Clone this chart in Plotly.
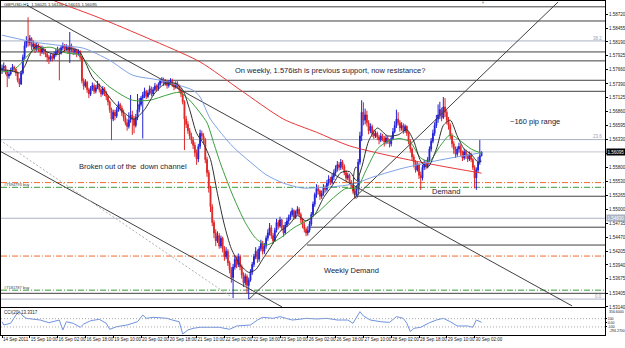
import plotly.graph_objects as go

# ---------------- GBPUSD H1 candles (bar 0 = 14 Sep 2011) ----------------
first_open = 1.5765
close = [
    1.5769, 1.5773, 1.5762, 1.5754, 1.5758, 1.5765, 1.5771, 1.5767, 1.5760, 1.5746, 1.5739,
    1.5760, 1.5790, 1.5812, 1.5822, 1.5818, 1.5826,
    1.5810, 1.5815, 1.5805, 1.5812, 1.5808, 1.5800, 1.5806, 1.5802,
    1.5796, 1.5790, 1.5786, 1.5792, 1.5788, 1.5795, 1.5800,
    1.5805, 1.5798, 1.5808, 1.5812, 1.5806, 1.5810, 1.5803, 1.5812, 1.5805,
    1.5800, 1.5803, 1.5797, 1.5801, 1.5790,
    1.5745, 1.5735, 1.5742, 1.5728, 1.5720, 1.5730, 1.5736,
    1.5725, 1.5732, 1.5738, 1.5728, 1.5720, 1.5730, 1.5722, 1.5715,
    1.5705, 1.5690, 1.5672, 1.5685, 1.5678, 1.5690, 1.5700, 1.5693,
    1.5684, 1.5675, 1.5665, 1.5658, 1.5670, 1.5680, 1.5672, 1.5660, 1.5675, 1.5690, 1.5700,
    1.5712, 1.5718, 1.5725, 1.5715, 1.5722, 1.5730, 1.5720, 1.5728, 1.5735, 1.5730,
    1.5738, 1.5745, 1.5748, 1.5740, 1.5744, 1.5736, 1.5742, 1.5746, 1.5738, 1.5733, 1.5740, 1.5736, 1.5728,
    1.5720, 1.5705, 1.5672, 1.5662, 1.5650, 1.5640, 1.5632, 1.5622, 1.5608, 1.5596, 1.5620, 1.5645, 1.5640, 1.5632,
    1.5595, 1.5570, 1.5540, 1.5505, 1.5475, 1.5455, 1.5440, 1.5450, 1.5430,
    1.5445, 1.5425, 1.5410, 1.5420, 1.5398, 1.5385, 1.5370, 1.5390, 1.5405, 1.5395, 1.5410,
    1.5390, 1.5375, 1.5360, 1.5372, 1.5355, 1.5365, 1.5380, 1.5395,
    1.5410, 1.5420, 1.5405, 1.5425, 1.5435, 1.5420, 1.5430, 1.5445,
    1.5455, 1.5465, 1.5450, 1.5440, 1.5460, 1.5475, 1.5468, 1.5480, 1.5465, 1.5455, 1.5470, 1.5478, 1.5485,
    1.5490, 1.5498, 1.5485, 1.5495, 1.5500, 1.5490, 1.5480,
    1.5470, 1.5462, 1.5455, 1.5460, 1.5472,
    1.5490, 1.5510, 1.5528, 1.5540, 1.5535,
    1.5525, 1.5530, 1.5542, 1.5538, 1.5550, 1.5558, 1.5552, 1.5562,
    1.5570, 1.5578, 1.5585, 1.5580, 1.5590, 1.5582,
    1.5570, 1.5560, 1.5565, 1.5552, 1.5545, 1.5535, 1.5528, 1.5540,
    1.5590, 1.5640, 1.5685, 1.5670, 1.5680, 1.5665, 1.5650, 1.5658, 1.5645,
    1.5640, 1.5645, 1.5638, 1.5632, 1.5640, 1.5635, 1.5628, 1.5636, 1.5630, 1.5625, 1.5635, 1.5648, 1.5660, 1.5672, 1.5665, 1.5655,
    1.5660, 1.5650, 1.5658, 1.5645, 1.5630,
    1.5615, 1.5600, 1.5590, 1.5575, 1.5585, 1.5565, 1.5560,
    1.5580, 1.5588, 1.5582, 1.5595,
    1.5615, 1.5630, 1.5645, 1.5660, 1.5672,
    1.5680, 1.5690, 1.5675, 1.5695, 1.5685, 1.5670, 1.5660,
    1.5640, 1.5625, 1.5615, 1.5605,
    1.5615, 1.5620, 1.5608, 1.5598, 1.5610, 1.5602, 1.5596, 1.5605, 1.5595,
    1.5580, 1.5560, 1.5575, 1.5590, 1.5602, 1.56095,
]
high = [
    1.5776, 1.5780, 1.5775, 1.5766, 1.5763, 1.5770, 1.5777, 1.5774, 1.5769, 1.5763, 1.5750,
    1.5764, 1.5795, 1.5820, 1.5830, 1.5866, 1.5832,
    1.5828, 1.5822, 1.5818, 1.5818, 1.5816, 1.5812, 1.5812, 1.5810,
    1.5806, 1.5800, 1.5794, 1.5797, 1.5796, 1.5801, 1.5806,
    1.5810, 1.5808, 1.5813, 1.5818, 1.5815, 1.5815, 1.5812, 1.5838, 1.5816,
    1.5809, 1.5808, 1.5806, 1.5805, 1.5803,
    1.5792, 1.5750, 1.5748, 1.5745, 1.5732, 1.5735, 1.5742,
    1.5740, 1.5737, 1.5745, 1.5740, 1.5731, 1.5735, 1.5733, 1.5726,
    1.5718, 1.5708, 1.5694, 1.5690, 1.5690, 1.5695, 1.5706, 1.5703,
    1.5698, 1.5690, 1.5680, 1.5672, 1.5685, 1.5718, 1.5688, 1.5678, 1.5682, 1.5720, 1.5712,
    1.5716, 1.5724, 1.5732, 1.5728, 1.5727, 1.5736, 1.5734, 1.5733, 1.5741, 1.5738,
    1.5742, 1.5749, 1.5752, 1.5751, 1.5748, 1.5747, 1.5746, 1.5750, 1.5749, 1.5741, 1.5744, 1.5744, 1.5738,
    1.5731, 1.5724, 1.5708, 1.5678, 1.5668, 1.5655, 1.5646, 1.5638, 1.5628, 1.5614, 1.5625, 1.5652, 1.5650, 1.5645,
    1.5636, 1.5600, 1.5575, 1.5545, 1.5510, 1.5480, 1.5462, 1.5458, 1.5455,
    1.5450, 1.5448, 1.5430, 1.5428, 1.5424, 1.5402, 1.5390, 1.5396, 1.5412, 1.5410, 1.5416,
    1.5414, 1.5395, 1.5380, 1.5378, 1.5376, 1.5370, 1.5386, 1.5400,
    1.5415, 1.5428, 1.5424, 1.5430, 1.5442, 1.5440, 1.5436, 1.5450,
    1.5462, 1.5474, 1.5470, 1.5455, 1.5465, 1.5482, 1.5480, 1.5486, 1.5482, 1.5470, 1.5476, 1.5484, 1.5490,
    1.5496, 1.5503, 1.5500, 1.5498, 1.5506, 1.5504, 1.5494,
    1.5484, 1.5476, 1.5466, 1.5468, 1.5478,
    1.5495, 1.5515, 1.5532, 1.5548, 1.5546,
    1.5538, 1.5536, 1.5548, 1.5546, 1.5556, 1.5565, 1.5562, 1.5568,
    1.5576, 1.5584, 1.5592, 1.5590, 1.5596, 1.5594,
    1.5586, 1.5575, 1.5570, 1.5568, 1.5556, 1.5550, 1.5540, 1.5546,
    1.5596, 1.5648, 1.5708, 1.5704, 1.5692, 1.5688, 1.5670, 1.5664, 1.5662,
    1.5652, 1.5650, 1.5648, 1.5642, 1.5646, 1.5644, 1.5640, 1.5642, 1.5640, 1.5634, 1.5640, 1.5655, 1.5668, 1.5690, 1.5685, 1.5670,
    1.5666, 1.5664, 1.5662, 1.5660, 1.5648,
    1.5634, 1.5618, 1.5605, 1.5594, 1.5590, 1.5588, 1.5572,
    1.5585, 1.5594, 1.5592, 1.5600,
    1.5620, 1.5636, 1.5652, 1.5666, 1.5680,
    1.5700, 1.5705, 1.5694, 1.5714, 1.5712, 1.5690, 1.5676,
    1.5664, 1.5645, 1.5630, 1.5620,
    1.5620, 1.5627, 1.5624, 1.5612, 1.5615, 1.5614, 1.5606, 1.5610, 1.5608,
    1.5598, 1.5584, 1.5580, 1.5600, 1.5632, 1.5610,
]
low = [
    1.5758, 1.5764, 1.5757, 1.5733, 1.5749, 1.5755, 1.5762, 1.5761, 1.5754, 1.5742, 1.5733,
    1.5737, 1.5757, 1.5786, 1.5808, 1.5810, 1.5812,
    1.5804, 1.5806, 1.5798, 1.5801, 1.5800, 1.5792, 1.5796, 1.5795,
    1.5790, 1.5781, 1.5777, 1.5782, 1.5782, 1.5785, 1.5791,
    1.5796, 1.5746, 1.5795, 1.5803, 1.5800, 1.5802, 1.5797, 1.5779, 1.5799,
    1.5794, 1.5795, 1.5790, 1.5793, 1.5785,
    1.5740, 1.5728, 1.5732, 1.5722, 1.5712, 1.5716, 1.5726,
    1.5720, 1.5721, 1.5729, 1.5723, 1.5714, 1.5717, 1.5716, 1.5708,
    1.5698, 1.5684, 1.5632, 1.5668, 1.5670, 1.5674, 1.5686, 1.5687,
    1.5678, 1.5668, 1.5660, 1.5650, 1.5654, 1.5665, 1.5642, 1.5645, 1.5656, 1.5670, 1.5685,
    1.5696, 1.5635, 1.5712, 1.5710, 1.5712, 1.5718, 1.5715, 1.5716, 1.5725, 1.5724,
    1.5726, 1.5734, 1.5740, 1.5735, 1.5736, 1.5730, 1.5732, 1.5738, 1.5733, 1.5727, 1.5730, 1.5730, 1.5722,
    1.5714, 1.5700, 1.5613, 1.5655, 1.5644, 1.5634, 1.5625, 1.5615, 1.5600, 1.5585, 1.5590, 1.5615, 1.5632, 1.5625,
    1.5588, 1.5562, 1.5532, 1.5495, 1.5468, 1.5445, 1.5430, 1.5436, 1.5425,
    1.5426, 1.5418, 1.5402, 1.5405, 1.5392, 1.5378, 1.5360, 1.5331, 1.5385, 1.5388, 1.5390,
    1.5384, 1.5368, 1.5352, 1.5355, 1.5340, 1.5329, 1.5362, 1.5375,
    1.5390, 1.5405, 1.5398, 1.5400, 1.5420, 1.5414, 1.5415, 1.5425,
    1.5440, 1.5450, 1.5444, 1.5434, 1.5438, 1.5456, 1.5462, 1.5465, 1.5460, 1.5448, 1.5452, 1.5466, 1.5472,
    1.5480, 1.5486, 1.5480, 1.5482, 1.5490, 1.5486, 1.5474,
    1.5464, 1.5456, 1.5449, 1.5450, 1.5456,
    1.5468, 1.5486, 1.5505, 1.5522, 1.5528,
    1.5518, 1.5520, 1.5526, 1.5532, 1.5534, 1.5545, 1.5546, 1.5548,
    1.5556, 1.5565, 1.5572, 1.5574, 1.5575, 1.5576,
    1.5565, 1.5554, 1.5556, 1.5548, 1.5540, 1.5530, 1.5520, 1.5524,
    1.5536, 1.5585, 1.5630, 1.5660, 1.5662, 1.5658, 1.5643, 1.5645, 1.5638,
    1.5634, 1.5636, 1.5632, 1.5624, 1.5628, 1.5630, 1.5620, 1.5624, 1.5625, 1.5618, 1.5620, 1.5632, 1.5645, 1.5655, 1.5660, 1.5648,
    1.5650, 1.5644, 1.5646, 1.5640, 1.5624,
    1.5608, 1.5592, 1.5580, 1.5570, 1.5572, 1.5558, 1.5537,
    1.5555, 1.5575, 1.5576, 1.5578,
    1.5590, 1.5610, 1.5626, 1.5640, 1.5655,
    1.5665, 1.5672, 1.5668, 1.5672, 1.5676, 1.5662, 1.5652,
    1.5634, 1.5618, 1.5606, 1.5598,
    1.5600, 1.5608, 1.5602, 1.5592, 1.5594, 1.5596, 1.5590, 1.5592, 1.5590,
    1.5575, 1.5540, 1.5537, 1.5570, 1.5585, 1.5601,
]

# ---------------- moving averages (bar, price) ----------------
red_ma_bar = [20, 32, 56, 84, 114, 137, 162, 181, 200, 229, 252, 276]
red_ma_val = [1.5912, 1.5895, 1.5865, 1.5826, 1.5781, 1.5728, 1.5672, 1.5647, 1.5621, 1.5598, 1.5583, 1.5569]

blue_ma_bar = [0, 18, 32, 47, 62, 75, 91, 110, 114, 120, 133, 143, 152, 162, 172, 181, 196, 204, 212, 229, 252, 276]
blue_ma_val = [1.5832, 1.5819, 1.5813, 1.5807, 1.5784, 1.5756, 1.5746, 1.5727, 1.5714, 1.5672, 1.5619,
               1.5590, 1.5566, 1.5550, 1.5541, 1.5541, 1.5545, 1.5550, 1.5560, 1.5577, 1.5594, 1.5608]

green_ma_bar = [0, 6, 10, 18, 28, 37, 45, 52, 62, 75, 85, 95, 102, 108, 114, 118, 122, 126, 133, 140,
                146, 152, 160, 168, 175, 182, 190, 198, 204, 210, 216, 222, 229, 235, 241, 246, 252,
                258, 264, 270, 276]
green_ma_val = [1.5762, 1.5765, 1.5775, 1.5803, 1.5809, 1.5798, 1.5794, 1.5765, 1.5733, 1.5708, 1.5708,
                1.5718, 1.5723, 1.5708, 1.5684, 1.5665, 1.5625, 1.5585, 1.5525, 1.5475, 1.5445, 1.5432,
                1.5445, 1.5465, 1.5478, 1.5495, 1.5520, 1.5540, 1.5540, 1.5578, 1.5615, 1.5630, 1.5635,
                1.5628, 1.5598, 1.5592, 1.5620, 1.5642, 1.5630, 1.5615, 1.5607]

black_ma_bar = [0, 6, 10, 13, 16, 20, 26, 32, 38, 44, 48, 52, 58, 64, 70, 76, 82, 88, 94, 100, 104, 108,
                112, 116, 120, 124, 128, 132, 137, 142, 146, 150, 155, 160, 165, 170, 175, 180, 185,
                190, 195, 200, 204, 207, 211, 216, 222, 228, 233, 237, 241, 245, 250, 254, 258, 262,
                266, 270, 274, 276]
black_ma_val = [1.5766, 1.5764, 1.5760, 1.5772, 1.5795, 1.5812, 1.5800, 1.5795, 1.5806, 1.5803, 1.5780,
                1.5752, 1.5730, 1.5705, 1.5685, 1.5672, 1.5690, 1.5722, 1.5740, 1.5740, 1.5728, 1.5690,
                1.5645, 1.5625, 1.5595, 1.5530, 1.5470, 1.5425, 1.5395, 1.5380, 1.5385, 1.5405, 1.5430,
                1.5458, 1.5470, 1.5488, 1.5478, 1.5490, 1.5522, 1.5545, 1.5570, 1.5572, 1.5555, 1.5580,
                1.5630, 1.5655, 1.5640, 1.5642, 1.5652, 1.5630, 1.5592, 1.5580, 1.5615, 1.5660, 1.5670,
                1.5640, 1.5615, 1.5605, 1.5590, 1.5592]

# ---------------- CCI(20) ----------------
cci_bar = [0, 1, 5, 8, 10, 12, 14, 18, 22, 27, 29, 33, 35, 37, 41, 45, 47, 51, 56, 60, 62, 66, 72, 78,
           81, 83, 87, 95, 98, 102, 104, 107, 110, 114, 120, 125, 131, 135, 143, 147, 150, 156, 160,
           167, 171, 175, 181, 187, 193, 199, 202, 206, 208, 212, 218, 223, 227, 229, 231, 233, 235,
           237, 241, 246, 250, 254, 258, 262, 268, 271, 273, 276]
cci_val = [26, -53, -12, 188, 268, 164, 108, 84, 67, 2, 26, 67, -173, 26, -12, -108, -29, 50, 84, -12,
           -157, -94, -53, 26, 188, 108, 132, 108, 67, 26, -270, -173, -133, -108, -108, -108, -157,
           -77, -53, 67, 132, 108, 148, 67, 84, 108, 92, 108, 67, 67, -12, 268, 164, 67, 26, 10, 148,
           132, 108, -12, -214, -133, -108, 2, 67, 108, 26, -77, -77, -108, 67, 13]

# ---------------- horizontal levels ----------------
level_price = [1.5886, 1.5859, 1.5821, 1.5800, 1.5783, 1.5746, 1.5725, 1.5633, 1.56095, 1.5551, 1.5542,
               1.5525, 1.5483, 1.5466, 1.5432, 1.5411, 1.5346, 1.5340, 1.5329]
level_from_bar = [-1, -1, -1, -1, -1, 92.7, 102.4, -1, -1, -1, -1, 204.3, -1, 177.3, 175.5, -1, -1, -1, -1]
level_kind = ["dark", "dark", "fib", "dark", "dark", "dark", "dark", "fib", "bid", "stop", "order",
              "dark", "fib", "dark", "dark", "stop", "order", "dark", "fib"]

# trend lines: (bar0, price0) -> (bar1, price1)
trend_bar0 = [14.4, -1.2, -1.2, 142.2]
trend_p0 = [1.5889, 1.5611, 1.5632, 1.5329]
trend_bar1 = [328.1, 161.2, 131.2, 320.0]
trend_p1 = [1.5316, 1.5314, 1.5335, 1.5895]
trend_kind = ["dark", "dark", "dotted", "dark"]

# axis ticks
price_ticks = [1.58720, 1.58455, 1.58190, 1.57925, 1.57660, 1.57390, 1.57125, 1.56860, 1.56595,
               1.56330, 1.56065, 1.55800, 1.55530, 1.55265, 1.55000, 1.54735, 1.54470, 1.54205,
               1.53940, 1.53675, 1.53405, 1.53140]
hidden_price_ticks = [1.56065]   # covered by the current-price box
time_labels = ["14 Sep 2011", "15 Sep 10:00", "16 Sep 02:00", "16 Sep 18:00", "19 Sep 10:00",
               "20 Sep 02:00", "20 Sep 18:00", "21 Sep 10:00", "22 Sep 02:00", "22 Sep 18:00",
               "23 Sep 10:00", "26 Sep 02:00", "26 Sep 18:00", "27 Sep 10:00", "28 Sep 02:00",
               "28 Sep 18:00", "29 Sep 10:00", "30 Sep 02:00"]
bars_per_label = 16
cci_max, cci_min = 356.6, -294.27
cci_mid_ticks = [100, 0, -100]
cci_mid_text = ["100", "0.00", "-100"]

# ---------------- build ----------------
n = min(len(close), len(high), len(low))
close = close[:n]; high = high[:n]; low = low[:n]
opens = [first_open] + close[:-1]
hi = [max(h, o, c) for h, o, c in zip(high, opens, close)]
lo = [min(l, o, c) for l, o, c in zip(low, opens, close)]
bars = list(range(n))

XMIN, XMAX = -0.58, 347.05
YMIN, YMAX = 1.53139, 1.58971
FONT = "Liberation Sans, Arial, sans-serif"
TXT = "#1c1c3a"

fig = go.Figure()

styles = {
    "dark": dict(color="#404040", width=1),
    "fib": dict(color="#a9b1c3", width=1),
    "bid": dict(color="#c3c6cf", width=1),
    "stop": dict(color="#f06a2a", width=1, dash="6px,2px,1px,2px"),
    "order": dict(color="#3a9a3a", width=1, dash="6px,2px,1px,2px"),
    "dotted": dict(color="#b0b0b0", width=1, dash="2px,2px"),
}
shapes = []
for p, b0, k in zip(level_price, level_from_bar, level_kind):
    shapes.append(dict(type="line", xref="x", yref="y", x0=(XMIN if b0 < 0 else b0), x1=XMAX,
                       y0=p, y1=p, line=styles[k], layer="below"))
for b0, p0, b1, p1, k in zip(trend_bar0, trend_p0, trend_bar1, trend_p1, trend_kind):
    fig.add_trace(go.Scatter(x=[b0, b1], y=[p0, p1], mode="lines", line=styles[k],
                             hoverinfo="skip", xaxis="x", yaxis="y"))
# ellipse around the channel break
shapes.append(dict(type="circle", xref="x", yref="y", x0=202.2, x1=205.6, y0=1.5521, y1=1.5581,
                   line=dict(color="#404040", width=1)))
# CCI levels
for lv in (100, -100):
    shapes.append(dict(type="line", xref="x2", yref="y2", x0=XMIN, x1=XMAX, y0=lv, y1=lv,
                       line=dict(color="#a8a8a8", width=1, dash="1px,2px")))

for xs, ys, col in [(red_ma_bar, red_ma_val, "#e8383a"), (blue_ma_bar, blue_ma_val, "#7ea2e6"),
                    (green_ma_bar, green_ma_val, "#3a9e3a"), (black_ma_bar, black_ma_val, "#303030")]:
    fig.add_trace(go.Scatter(x=xs, y=ys, mode="lines", hoverinfo="skip", xaxis="x", yaxis="y",
                             line=dict(color=col, width=1, shape="spline", smoothing=0.7)))

fig.add_trace(go.Candlestick(
    x=bars, open=opens, high=hi, low=lo, close=close, xaxis="x", yaxis="y",
    increasing=dict(line=dict(color="#2222d6", width=1), fillcolor="#2222d6"),
    decreasing=dict(line=dict(color="#e02626", width=1), fillcolor="#e02626"),
    whiskerwidth=0, hoverinfo="skip"))

fig.add_trace(go.Scatter(x=cci_bar, y=cci_val, mode="lines", xaxis="x2", yaxis="y2",
                         line=dict(color="#6f93e0", width=1), hoverinfo="skip"))

ann = []
def txt(x, y, s, size=7.5, color=TXT, xanchor="left", xref="x", yref="y", yanchor="middle", **kw):
    ann.append(dict(x=x, y=y, xref=xref, yref=yref, text=s, showarrow=False, xanchor=xanchor,
                    yanchor=yanchor, font=dict(family=FONT, size=size, color=color), **kw))

txt(133.0, 1.5765, "On weekly, 1.576ish is previous support, now resistance?")
txt(291.2, 1.5668, "~160 pip range")
txt(43.2, 1.5581, "Broken out of the  down channel")
txt(246.3, 1.5535, "Demand")
txt(184.2, 1.5384, "Weekly Demand")
txt(0.0, 1.5891, "GBPUSD,H1  1.56025 1.56100 1.56015 1.56095", size=4.3, color="#202020")
txt(0.0, 1.5547, "#7394793 buy", size=4, color="#404040")
txt(0.0, 1.5351, "#7181787 buy", size=4, color="#404040")
txt(346.5, 1.5825, "38.2", size=4.5, color="#9aa2b4", xanchor="right")
txt(346.5, 1.5638, "23.6", size=4.5, color="#9aa2b4", xanchor="right")
txt(346.5, 1.5333, "0.0", size=4.5, color="#9aa2b4", xanchor="right")
txt(0.0, 260, "CCI(20) 13.3317", size=4.5, color="#202020", xref="x", yref="y2")
txt(276.8, 1.5894, "\u25BC", size=4, color="#9a9a9a", xanchor="center")
# CCI scale extremes (drawn inside the pane height, just right of the frame)
txt(1.0, cci_max, f"{cci_max:.4f}", size=3.5, color="#202020", xref="paper", yref="y2",
    yanchor="top", xshift=2)
txt(1.0, cci_min, f"{cci_min:.4f}", size=3.5, color="#202020", xref="paper", yref="y2",
    yanchor="bottom", xshift=2)
# price boxes on the axis
ann.append(dict(x=1.0, y=close[-1], xref="paper", yref="y", text=f"{close[-1]:.5f}", showarrow=False,
                xanchor="left", yanchor="middle", xshift=1, bgcolor="#000000", borderpad=0.5,
                font=dict(family=FONT, size=4.5, color="#ffffff")))
ann.append(dict(x=1.0, y=level_price[12], xref="paper", yref="y", text=f"{level_price[12]:.5f}",
                showarrow=False, xanchor="left", yanchor="middle", xshift=1, bgcolor="#a9b1c3",
                borderpad=0.5, font=dict(family=FONT, size=4.5, color="#ffffff")))

axis_common = dict(showline=True, linecolor="#000000", linewidth=1, mirror=True, showgrid=False,
                   zeroline=False, automargin=False)
fig.update_layout(
    width=625, height=348, margin=dict(l=1, r=20, t=1, b=13),
    paper_bgcolor="#ffffff", plot_bgcolor="#ffffff", showlegend=False,
    shapes=shapes, annotations=ann,
    xaxis=dict(domain=[0, 1], anchor="y", range=[XMIN, XMAX], showticklabels=False,
               rangeslider=dict(visible=False), **axis_common),
    xaxis2=dict(domain=[0, 1], anchor="y2", range=[XMIN, XMAX], matches="x",
                tickvals=[i * bars_per_label for i in range(len(time_labels))], ticktext=time_labels,
                ticks="outside", ticklen=2, tickcolor="#000000", ticklabelposition="outside right",
                tickangle=0, tickfont=dict(family=FONT, size=4.5, color="#202020"), **axis_common),
    yaxis=dict(domain=[0.0838, 1], anchor="x", side="right", range=[YMIN, YMAX],
               tickvals=price_ticks,
               ticktext=["" if v in hidden_price_ticks else f"{v:.5f}" for v in price_ticks],
               ticks="outside", ticklen=2, tickcolor="#000000",
               tickfont=dict(family=FONT, size=4.5, color="#202020"), **axis_common),
    yaxis2=dict(domain=[0, 0.0808], anchor="x2", side="right", range=[cci_min, cci_max],
                tickvals=cci_mid_ticks, ticktext=cci_mid_text, ticks="outside", ticklen=1,
                tickcolor="#000000", tickfont=dict(family=FONT, size=3.5, color="#202020"),
                **axis_common),
)

fig.write_html("out.html")
